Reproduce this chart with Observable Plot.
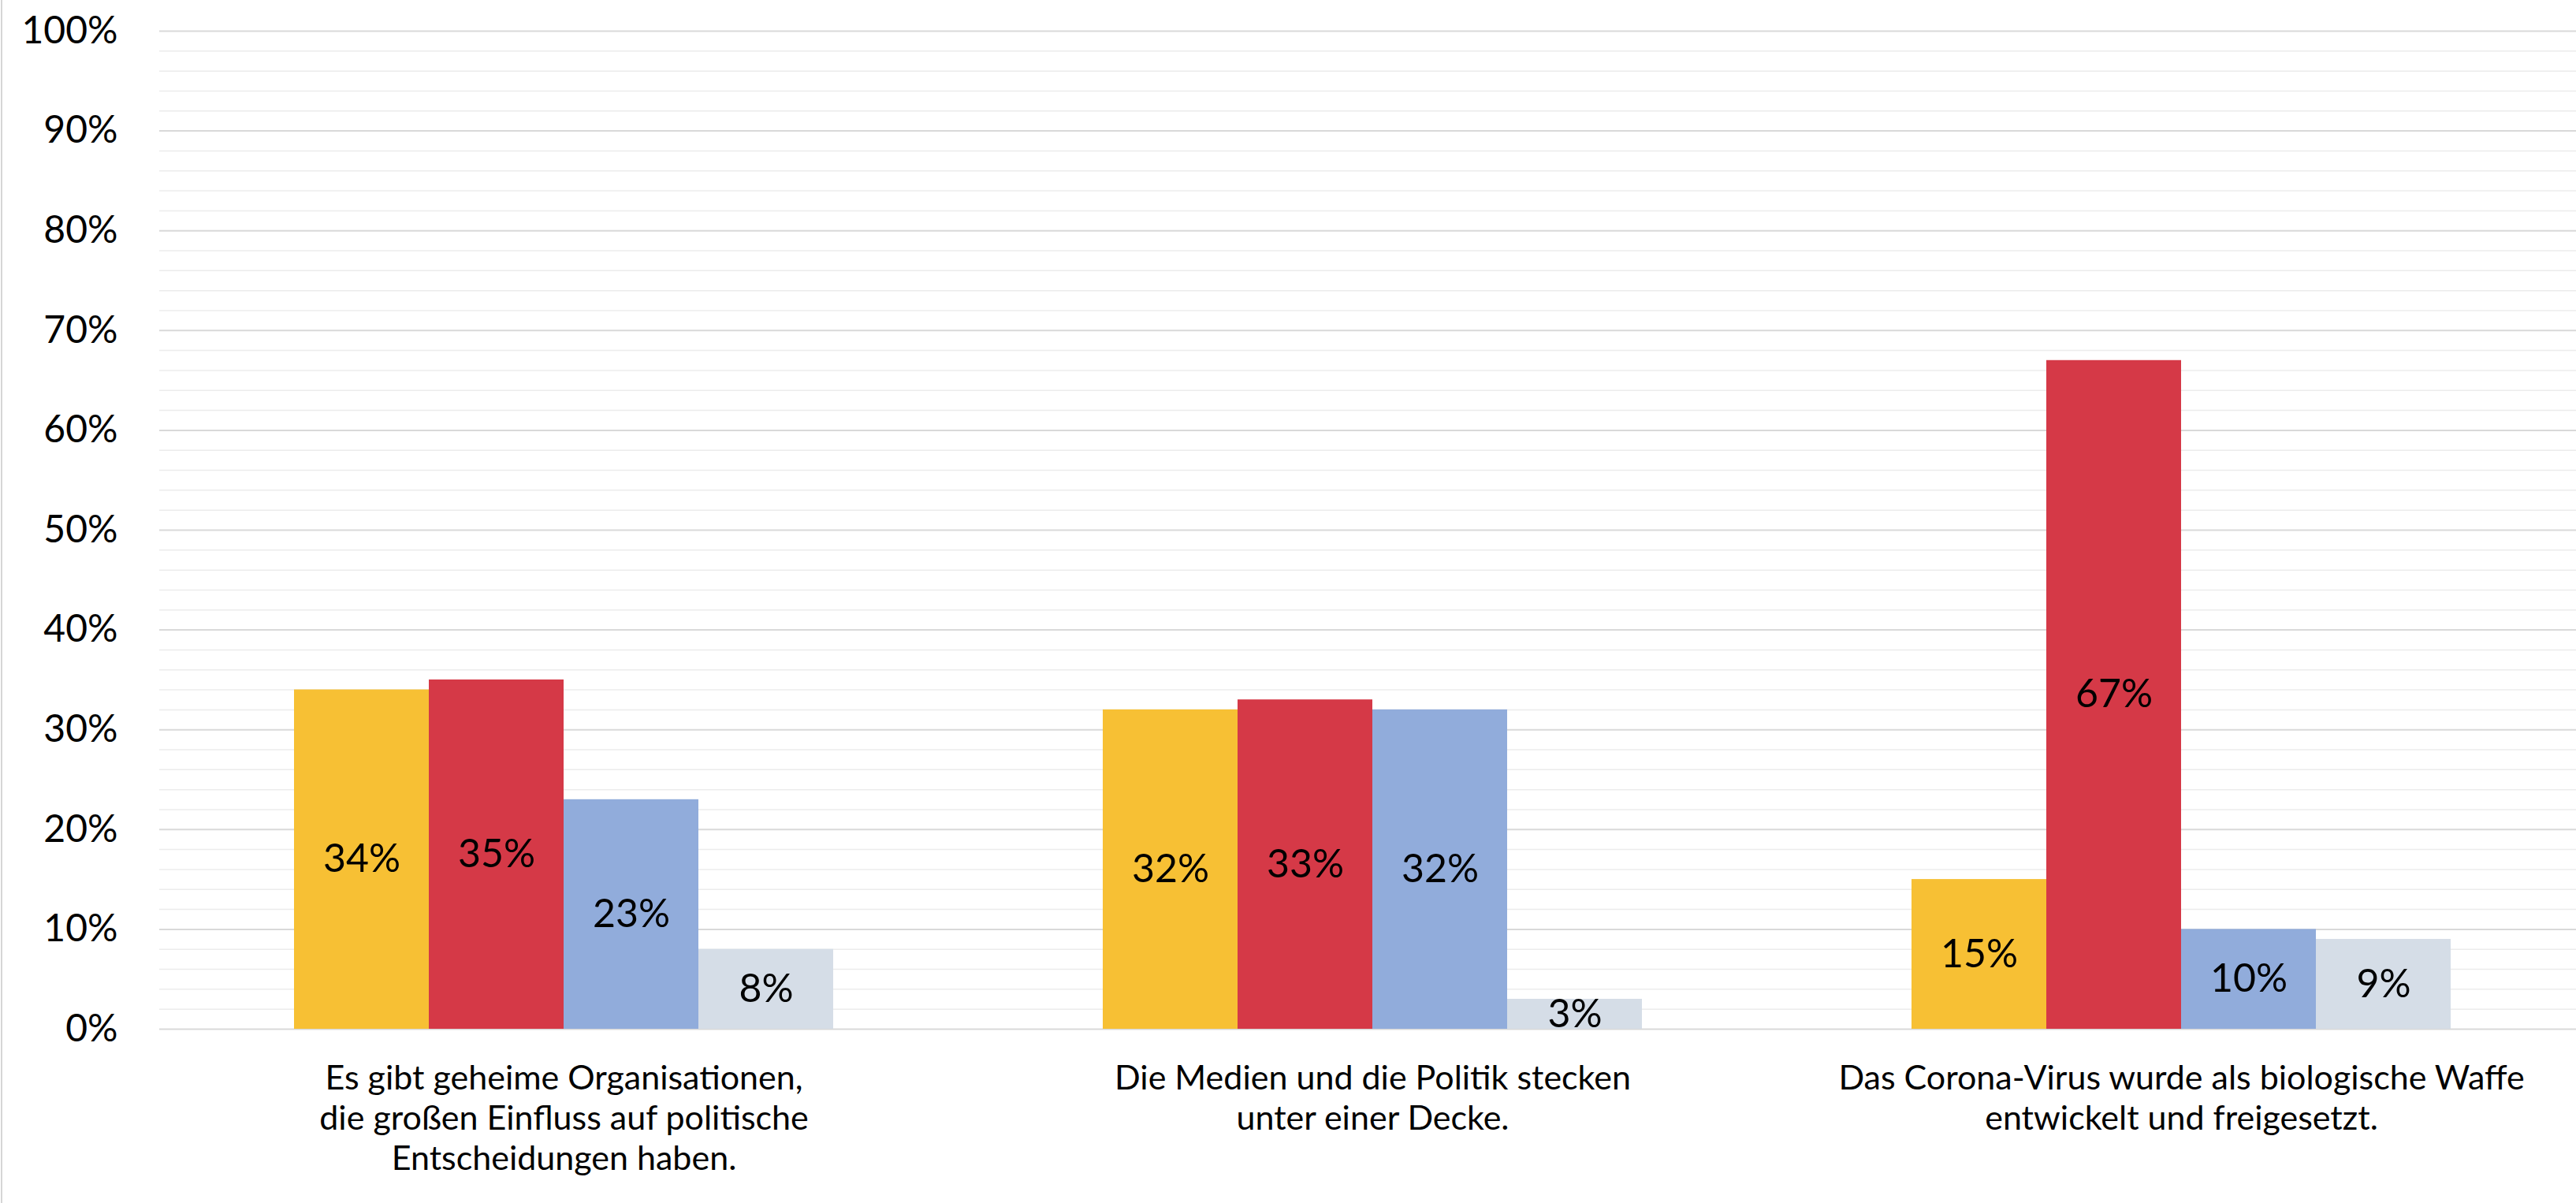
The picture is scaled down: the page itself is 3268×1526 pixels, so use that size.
<!DOCTYPE html>
<html><head><meta charset="utf-8">
<script src="https://cdn.jsdelivr.net/npm/d3@7"></script>
<script src="https://cdn.jsdelivr.net/npm/@observablehq/plot@0.6"></script>
<style>
html,body{margin:0;padding:0;background:#fff;overflow:hidden;width:3268px;height:1526px;position:relative;}
#chart{position:absolute;left:0;top:0;width:3281px;height:1526px;}
#chart svg{max-width:none !important;width:3281px !important;height:1526px !important;}
#frame{position:absolute;left:1px;top:0;width:2px;height:1526px;background:#d6d6d6;}
</style></head>
<body><div id="chart"></div><div id="frame"></div>
<script>
const categories = ["c1", "c2", "c3"];
const categoryLabels = [
  "Es gibt geheime Organisationen,\ndie großen Einfluss auf politische\nEntscheidungen haben.",
  "Die Medien und die Politik stecken\nunter einer Decke.",
  "Das Corona-Virus wurde als biologische Waffe\nentwickelt und freigesetzt."
];
const series = ["s1", "s2", "s3", "s4"];
const seriesColors = ["#f7c034", "#d53947", "#91acdb", "#d5dde7"];
const valuesS1 = [34, 32, 15];
const valuesS2 = [35, 33, 67];
const valuesS3 = [23, 32, 10];
const valuesS4 = [8, 3, 9];
const yTicks = [0, 10, 20, 30, 40, 50, 60, 70, 80, 90, 100];
const yMinorTicks = [2,4,6,8,12,14,16,18,22,24,26,28,32,34,36,38,42,44,46,48,52,54,56,58,62,64,66,68,72,74,76,78,82,84,86,88,92,94,96,98];

const allValues = [valuesS1, valuesS2, valuesS3, valuesS4];
const data = [];
categories.forEach((c, ci) => series.forEach((s, si) => data.push({category: c, series: s, value: allValues[si][ci]})));
const labelData = categories.map((c, i) => ({category: c, label: categoryLabels[i]}));

const chart = Plot.plot({
  width: 3281,
  height: 1526,
  marginLeft: 201,
  marginRight: 0,
  marginTop: 39,
  marginBottom: 221,
  style: {fontFamily: "Lato, 'Open Sans', sans-serif", color: "#000", background: "#fff", maxWidth: "none"},
  fx: {domain: categories, padding: 0, axis: null},
  x: {domain: series, paddingInner: 0, paddingOuter: 1, axis: null},
  y: {domain: [0, 100], axis: null},
  color: {domain: series, range: seriesColors},
  marks: [
    Plot.ruleY(yMinorTicks, {stroke: "#ececec", strokeWidth: 1.5}),
    Plot.ruleY(yTicks, {stroke: "#d9d9d9", strokeWidth: 2}),
    Plot.barY(data, {fx: "category", x: "series", y: "value", fill: "series"}),
    Plot.text(data, {fx: "category", x: "series", y: d => d.value / 2, text: d => d.value + "%", fontSize: 50, fill: "#000"}),
    Plot.axisY({ticks: yTicks, tickFormat: d => d + "%", tickSize: 0, tickPadding: 53, fontSize: 48, label: null, fill: "#000"}),
    Plot.text(labelData, {fx: "category", frameAnchor: "bottom", text: "label", lineAnchor: "top", dy: 40, fontSize: 43, lineHeight: 1.19, fill: "#000"})
  ]
});
document.getElementById("chart").appendChild(chart);
</script>
</body></html>
